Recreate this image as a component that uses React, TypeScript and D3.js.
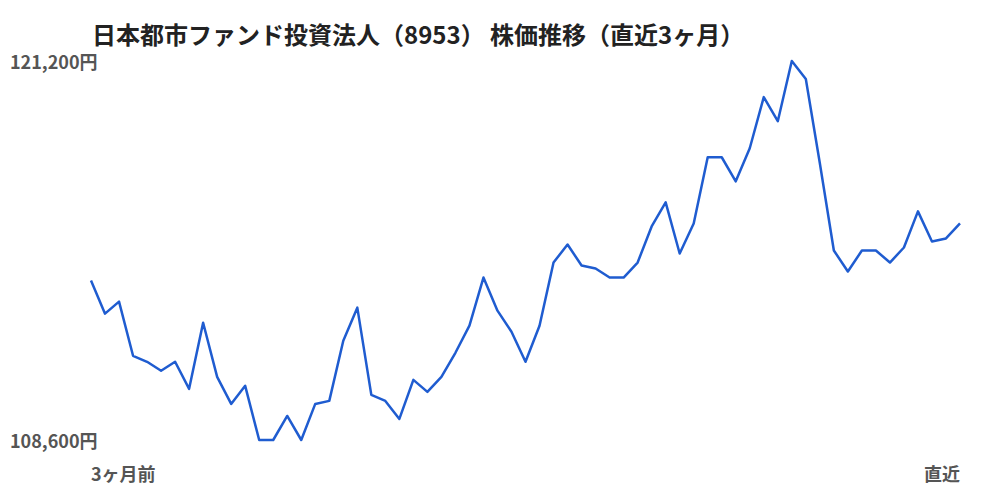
import * as React from "react";
import * as d3 from "d3";

const title = "日本都市ファンド投資法人（8953） 株価推移（直近3ヶ月）";
// daily closing prices, oldest first (yen)
const prices = [
  113900, 112800, 113200, 111400, 111200, 110900, 111200, 110300, 112500, 110700,
  109800, 110400, 108600, 108600, 109400, 108600, 109800, 109900, 111900, 113000,
  110100, 109900, 109300, 110600, 110200, 110700, 111500, 112400, 114000, 112900,
  112200, 111200, 112400, 114500, 115100, 114400, 114300, 114000, 114000, 114500,
  115700, 116500, 114800, 115800, 118000, 118000, 117200, 118300, 120000, 119200,
  121200, 120600, 117800, 114900, 114200, 114900, 114900, 114500, 115000, 116200,
  115200, 115300, 115800,
];
const xLabels = ["3ヶ月前", "直近"];

const W = 1000;
const H = 500;
const font = "'Noto Sans CJK JP', 'Noto Sans', sans-serif";

export default function App() {
  const ref = React.useRef<SVGSVGElement | null>(null);

  React.useEffect(() => {
    const svg = d3.select(ref.current);
    svg.selectAll("*").remove();

    const x = d3.scaleLinear([0, prices.length - 1], [91, 960]);
    const [lo, hi] = d3.extent(prices) as [number, number];
    const y = d3.scaleLinear([lo, hi], [440, 61]);

    svg
      .append("text")
      .attr("x", 92)
      .attr("y", 44)
      .attr("font-size", 24)
      .attr("font-weight", 700)
      .attr("fill", "#222")
      .text(title);

    // min / max labels on the left
    svg
      .selectAll(".ylab")
      .data([hi, lo])
      .enter()
      .append("text")
      .attr("x", 10)
      .attr("y", (d) => y(d) + 8)
      .attr("font-size", 18)
      .attr("font-weight", 700)
      .attr("fill", "#555")
      .text((d) => d3.format(",")(d) + "円");

    svg
      .selectAll(".xlab")
      .data(xLabels)
      .enter()
      .append("text")
      .attr("x", (_, i) => (i === 0 ? x(0) : x(prices.length - 1)))
      .attr("y", 481)
      .attr("text-anchor", (_, i) => (i === 0 ? "start" : "end"))
      .attr("font-size", 18)
      .attr("font-weight", 700)
      .attr("fill", "#555")
      .text((d) => d);

    const line = d3
      .line<number>()
      .x((_, i) => x(i))
      .y((d) => y(d));

    svg
      .append("path")
      .datum(prices)
      .attr("d", line)
      .attr("fill", "none")
      .attr("stroke", "#1f5cd0")
      .attr("stroke-width", 2.5)
      .attr("stroke-linejoin", "round");
  }, []);

  return (
    <svg
      ref={ref}
      width={W}
      height={H}
      style={{ position: "absolute", left: 0, top: 0, fontFamily: font, background: "#fff" }}
    />
  );
}
